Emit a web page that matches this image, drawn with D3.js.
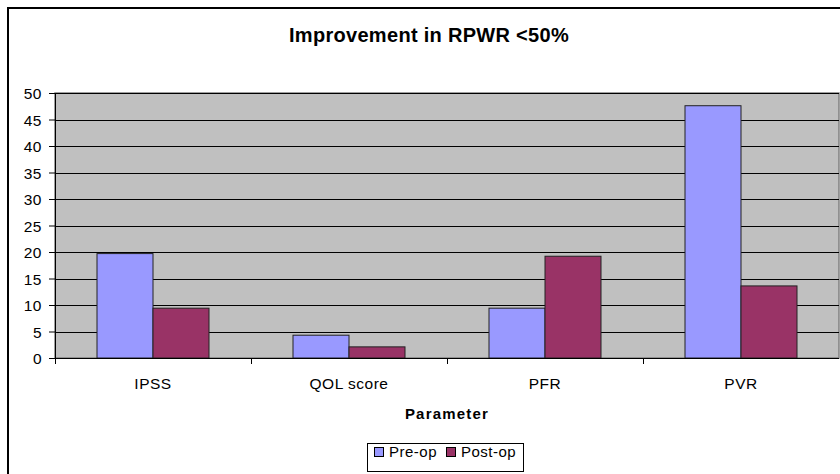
<!DOCTYPE html>
<html><head><meta charset="utf-8">
<script src="https://cdn.jsdelivr.net/npm/d3@7/dist/d3.min.js"></script>
<style>body{margin:0;background:#fff;}svg{display:block;font-family:"Liberation Sans",Arial,sans-serif;}</style>
</head><body><svg id="c" width="840" height="474"></svg>
<script>
const categories = ["IPSS", "QOL score", "PFR", "PVR"];
const seriesNames = ["Pre-op", "Post-op"];
const preOp = [19.7, 4.3, 9.4, 47.6];
const postOp = [9.4, 2.1, 19.2, 13.6];
const yTicks = [0, 5, 10, 15, 20, 25, 30, 35, 40, 45, 50];
const colors = ["#9999FF", "#993366"];

const svg = d3.select("#c");
// chart frame
svg.append("rect").attr("x", 8).attr("y", 8).attr("width", 900).attr("height", 600)
  .attr("fill", "#fff").attr("stroke", "#000").attr("stroke-width", 2);

const L = 55, R = 839, T = 93, B = 358;
const x = d3.scaleBand().domain(categories).range([L, R]).paddingInner(0).paddingOuter(0);
const x1 = d3.scaleBand().domain(seriesNames).range([0, x.bandwidth()]).paddingInner(0).paddingOuter(0.75);
const y = d3.scaleLinear().domain([0, 50]).range([B, T]);

svg.append("rect").attr("x", L).attr("y", T).attr("width", R - L).attr("height", B - T)
  .attr("fill", "#C0C0C0").attr("stroke", "#808080").attr("stroke-width", 1.5);

svg.append("g").selectAll("line").data(yTicks.filter(d => d > 0)).join("line")
  .attr("x1", L).attr("x2", R).attr("y1", d => Math.round(y(d)) + 0.5).attr("y2", d => Math.round(y(d)) + 0.5)
  .attr("stroke", "#000").attr("stroke-width", 1);

const data = categories.map((c, i) => [{c, s: seriesNames[0], v: preOp[i]}, {c, s: seriesNames[1], v: postOp[i]}]).flat();
svg.append("g").selectAll("rect").data(data).join("rect")
  .attr("x", d => x(d.c) + x1(d.s)).attr("width", x1.bandwidth())
  .attr("y", d => y(d.v)).attr("height", d => B - y(d.v))
  .attr("fill", d => colors[seriesNames.indexOf(d.s)]).attr("stroke", "#222").attr("stroke-width", 1);

// y axis
const ya = svg.append("g").attr("transform", `translate(${L},0)`)
  .call(d3.axisLeft(y).tickValues(yTicks).tickSize(6).tickPadding(7).tickSizeOuter(0));
ya.select(".domain").attr("stroke", "#000");
ya.selectAll("text").attr("font-size", 15.5).attr("fill", "#000").attr("dy", "0.36em")
  .style("letter-spacing", "0.5px").style("font-family", "Liberation Sans, Arial, sans-serif");

// x axis
svg.append("line").attr("x1", L).attr("x2", R).attr("y1", B + 0.5).attr("y2", B + 0.5).attr("stroke", "#000");
svg.append("g").selectAll("line").data(categories).join("line")
  .attr("x1", d => Math.round(x(d)) + 0.5).attr("x2", d => Math.round(x(d)) + 0.5)
  .attr("y1", B).attr("y2", B + 6).attr("stroke", "#000");
svg.append("g").selectAll("text").data(categories).join("text")
  .attr("x", d => x(d) + x.bandwidth() / 2).attr("y", B + 31).attr("text-anchor", "middle")
  .attr("font-size", 15.5).style("letter-spacing", "0.5px").text(d => d);

svg.append("text").attr("x", 429).attr("y", 42).attr("text-anchor", "middle")
  .attr("font-size", 20).attr("font-weight", "bold").style("letter-spacing", "0.3px")
  .text("Improvement in RPWR <50%");
svg.append("text").attr("x", 447).attr("y", 419).attr("text-anchor", "middle")
  .attr("font-size", 15).attr("font-weight", "bold").style("letter-spacing", "1.2px").text("Parameter");

// legend
const lg = svg.append("g");
lg.append("rect").attr("x", 367.5).attr("y", 443.5).attr("width", 156).attr("height", 28)
  .attr("fill", "#fff").attr("stroke", "#000");
const items = [{n: seriesNames[0], c: colors[0], x: 374}, {n: seriesNames[1], c: colors[1], x: 446}];
items.forEach(it => {
  lg.append("rect").attr("x", it.x + 0.5).attr("y", 447.5).attr("width", 9).attr("height", 9)
    .attr("fill", it.c).attr("stroke", "#000");
  lg.append("text").attr("x", it.x + 15).attr("y", 457).attr("font-size", 15)
    .style("letter-spacing", "0.5px").text(it.n);
});
</script></body></html>
